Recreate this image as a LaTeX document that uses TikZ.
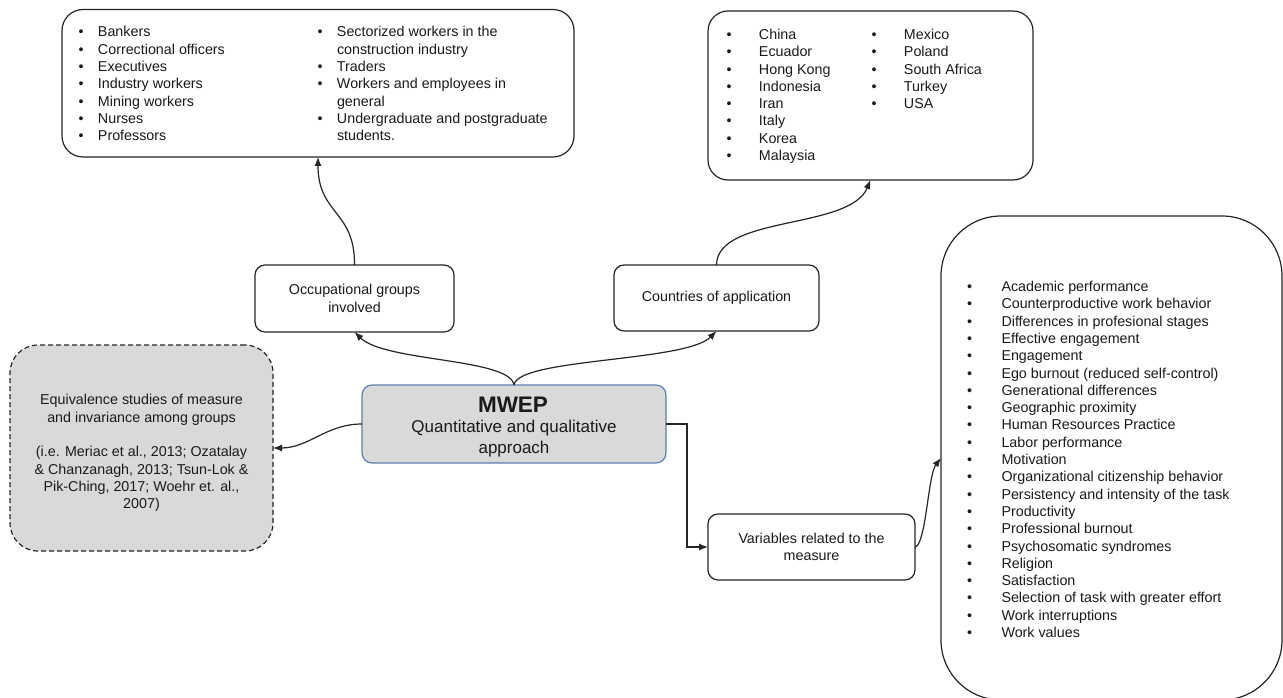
\documentclass[tikz,border=0pt]{standalone}
\usepackage{fontspec}
\setmainfont{Liberation Sans}
\usetikzlibrary{arrows.meta,calc}
\definecolor{ln}{HTML}{262626}
\definecolor{tx}{HTML}{1A1A1A}
\definecolor{gfill}{HTML}{D9D9D9}
\definecolor{bborder}{HTML}{5F7FB3}
\newcommand{\blt}{\textbullet}
\begin{document}
\begin{tikzpicture}[x=1pt,y=-1pt,
  every node/.style={font=\fontsize{14.3}{17.3}\selectfont, text=tx},
  box/.style={draw=ln, line width=1.2pt, inner sep=0pt, outer sep=0pt, align=center},
  arr/.style={draw=ln, line width=1.2pt, -{Latex[length=9pt,width=7pt]}},
  listtext/.style={anchor=base west, inner sep=0pt, outer sep=0pt, align=left}]
\useasboundingbox (0,0) rectangle (1283,698);
\fill[white] (0,0) rectangle (1283,698);

% ---------- boxes ----------
\node[box, rounded corners=21pt, minimum width=512pt, minimum height=147.5pt] (occlist) at (318,83.25) {};
\node[box, rounded corners=20pt, minimum width=325pt, minimum height=169pt] (ctrylist) at (870.5,95.5) {};
\node[box, rounded corners=10pt, minimum width=199pt, minimum height=67pt] (occ) at (354.5,298.5) {Occupational groups\\involved};
\node[box, rounded corners=10pt, minimum width=205pt, minimum height=66pt] (ctry) at (716.5,298) {Countries of application};
\node[box, draw=bborder, fill=gfill, rounded corners=10pt, minimum width=304pt, minimum height=78pt] (mwep) at (514,424) {};
\node[box, dash pattern=on 5pt off 3pt, fill=gfill, rounded corners=28pt, minimum width=263pt, minimum height=206pt] (eq) at (141.5,448) {};
\node[box, rounded corners=10pt, minimum width=207pt, minimum height=66pt] (var) at (811.5,547) {Variables related to the\\measure};
\node[box, rounded corners=60pt, minimum width=341pt, minimum height=484pt] (vlist) at (1111.5,458) {};

% ---------- texts ----------
\node[inner sep=0pt, font=\fontsize{22.5}{25}\selectfont\bfseries] (mwepT) at (513,405) {MWEP};
\node[inner sep=0pt, align=center, font=\fontsize{17}{21}\selectfont] (mwepS) at (514,438.5) {Quantitative and qualitative\\approach};
\node[inner sep=0pt, align=center] (eqT) at (141.5,453) {Equivalence studies of measure\\and invariance among groups\\[17.3pt](i.e. Meriac et al., 2013; Ozatalay\\\& Chanzanagh, 2013; Tsun-Lok \&\\Pik-Ching, 2017; Woehr et. al.,\\2007)};

\node[listtext] (occA) at (78.5,37) {\begin{tabular}[t]{@{}p{19.5pt}@{}l@{}}
\blt & Bankers\\
\blt & Correctional officers\\
\blt & Executives\\
\blt & Industry workers\\
\blt & Mining workers\\
\blt & Nurses\\
\blt & Professors
\end{tabular}};
\node[listtext] (occB) at (317.5,37) {\begin{tabular}[t]{@{}p{19.5pt}@{}l@{}}
\blt & Sectorized workers in the\\
     & construction industry\\
\blt & Traders\\
\blt & Workers and employees in\\
     & general\\
\blt & Undergraduate and postgraduate\\
     & students.
\end{tabular}};

\node[listtext] (ctryA) at (726.5,39.5) {\begin{tabular}[t]{@{}p{32.5pt}@{}l@{}}
\blt & China\\
\blt & Ecuador\\
\blt & Hong Kong\\
\blt & Indonesia\\
\blt & Iran\\
\blt & Italy\\
\blt & Korea\\
\blt & Malaysia
\end{tabular}};
\node[listtext] (ctryB) at (871.5,39.5) {\begin{tabular}[t]{@{}p{32.5pt}@{}l@{}}
\blt & Mexico\\
\blt & Poland\\
\blt & South Africa\\
\blt & Turkey\\
\blt & USA
\end{tabular}};

\node[listtext] (varT) at (967,291.5) {\begin{tabular}[t]{@{}p{34.5pt}@{}l@{}}
\blt & Academic performance\\
\blt & Counterproductive work behavior\\
\blt & Differences in profesional stages\\
\blt & Effective engagement\\
\blt & Engagement\\
\blt & Ego burnout (reduced self-control)\\
\blt & Generational differences\\
\blt & Geographic proximity\\
\blt & Human Resources Practice\\
\blt & Labor performance\\
\blt & Motivation\\
\blt & Organizational citizenship behavior\\
\blt & Persistency and intensity of the task\\
\blt & Productivity\\
\blt & Professional burnout\\
\blt & Psychosomatic syndromes\\
\blt & Religion\\
\blt & Satisfaction\\
\blt & Selection of task with greater effort\\
\blt & Work interruptions\\
\blt & Work values
\end{tabular}};

% ---------- connectors ----------
\draw[arr] (mwep.north) .. controls (510,358) and (385,362) .. (occ.south);
\draw[arr] (mwep.north) .. controls (518,358) and (686,362) .. (ctry.south);
\draw[arr] (occ.north) .. controls (355,210) and (318,215) .. (occlist.south);
\draw[arr] (ctry.north) .. controls (717,215) and (850,230) .. (ctrylist.south);
\draw[arr] (mwep.west) to[out=180,in=0] (eq.east);
\draw[arr] (mwep.east) -- ++(21,0) |- (var.west);
\draw[arr] (var.east) .. controls (926,545) and (928,475) .. (vlist.west);
\end{tikzpicture}
\end{document}
